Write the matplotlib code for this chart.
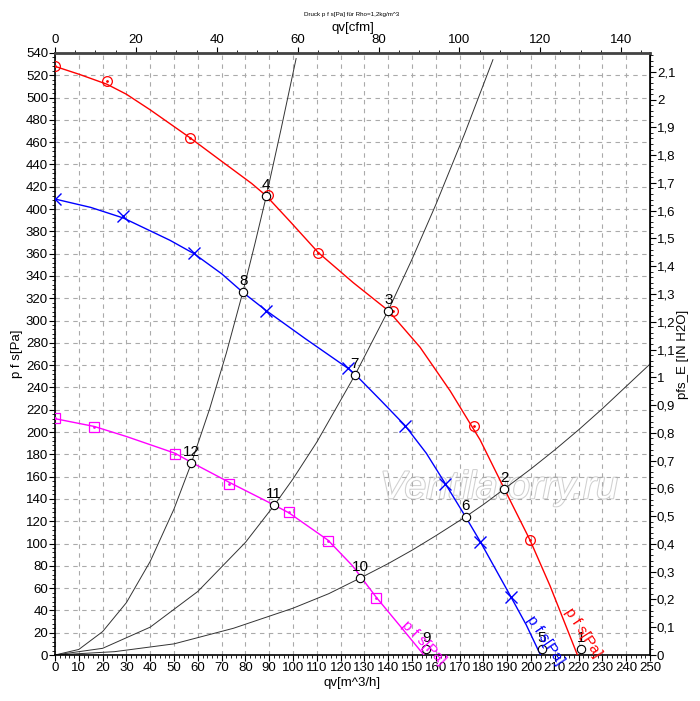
import matplotlib
matplotlib.use("Agg")
import matplotlib.pyplot as plt
import matplotlib.patheffects as pe
from matplotlib.ticker import MultipleLocator, FuncFormatter

plt.rcParams['font.family'] = ['Liberation Sans', 'DejaVu Sans']

# fan curves p f s [Pa] vs qv [m^3/h]
red_q = [0, 10, 21.8, 30, 40, 56.7, 69.3, 82.6, 88.7, 98.7, 110.6, 125.3, 140, 153.4, 166, 178.6, 188.8, 199.6, 208, 219.5]
red_p = [528, 521, 512, 503, 489, 464, 444, 423, 412, 389, 361, 334, 309, 276, 237, 193, 149, 103, 62, 0]
red_mq = [0, 21.8, 56.7, 89.5, 110.5, 142.2, 176, 199.6]
red_mp = [528, 515, 463.7, 412.6, 360.9, 309, 205.4, 103]

blue_q = [0, 15, 28.7, 48.3, 58.4, 70, 79.1, 88.7, 105, 123.2, 126, 136.6, 147, 156, 163.9, 172.5, 178.6, 191.6, 198, 204]
blue_p = [409, 401.5, 392, 372, 360, 342, 325, 309, 284, 257, 252, 229, 206, 181, 154, 124, 102, 52, 27, 0]
blue_mq = [0, 28.7, 58.4, 88.7, 123.2, 147, 163.9, 178.6, 191.6]
blue_mp = [409, 394, 360.3, 309, 257, 205.7, 153.4, 101.6, 52.3]

mag_q = [0, 16.5, 30, 50.4, 57.1, 73.1, 92, 98.3, 114.7, 125, 134.9, 145, 155]
mag_p = [212, 205, 196, 181, 173, 155, 134.6, 127.5, 103, 80, 52, 26, 0]
mag_mq = [0, 16.5, 50.4, 73.1, 98.3, 114.7, 134.9]
mag_mp = [212.6, 204.8, 180, 153.4, 128.3, 102.3, 51.1]

# system curves (black)
sysA_q = [0, 10, 20, 30, 40, 50, 57.1, 65, 72, 79.1, 84, 88.7, 95, 101.3]
sysA_p = [0, 5, 21, 47, 84, 131, 171, 221, 271, 327, 369, 411, 472, 535]
sysB_q = [0, 20, 40, 60, 80, 92, 100, 110, 126, 140, 150, 160, 172, 184]
sysB_p = [0, 6, 25, 57, 101, 134, 158, 191, 251, 309, 355, 404, 467, 534]
sysC_q = [0, 25, 50, 75, 100, 115, 128.2, 140, 150, 160, 172.5, 180, 188.8, 200, 210, 220, 230, 240, 250]
sysC_p = [0, 3, 10, 24, 42, 55, 69, 82, 94, 107, 124, 135, 149, 167, 184, 202, 221, 241, 261]

# operating points
pt_labels = ['1', '2', '3', '4', '5', '6', '7', '8', '9', '10', '11', '12']
pt_q = [221, 188.8, 140, 88.7, 204.5, 172.5, 126, 79.1, 156, 128.2, 92, 57.1]
pt_p = [5, 148.9, 308.8, 411.7, 5, 124, 251, 325.3, 5, 69, 134.6, 172.2]

fig = plt.figure(figsize=(7, 7.01), dpi=100)
ax = fig.add_axes([0.0786, 0.0656, 0.85, 0.8588])
ax.set_xlim(0, 250)
ax.set_ylim(0, 540)

ax.xaxis.set_major_locator(MultipleLocator(10))
ax.xaxis.set_minor_locator(MultipleLocator(2))
ax.yaxis.set_major_locator(MultipleLocator(20))
ax.yaxis.set_minor_locator(MultipleLocator(4))
ax.grid(True, which='major', color='#aaaaaa', linestyle=(0, (4, 4)), linewidth=0.8)
ax.tick_params(which='major', direction='out', length=4, labelsize=9.5, pad=1)
ax.tick_params(which='minor', direction='out', length=2)

for s in ax.spines.values():
    s.set_linewidth(1.2)
ax.spines['top'].set_linewidth(2)
ax.spines['top'].set_color('#444444')

ax.text(0.746, 0.277, 'Ventilatorry.ru', transform=ax.transAxes, fontsize=28,
        style='italic', color='white', ha='center', va='center', zorder=1.5,
        path_effects=[pe.withStroke(linewidth=1.5, foreground='#d0d0d0')])

for q, p in [(sysA_q, sysA_p), (sysB_q, sysB_p), (sysC_q, sysC_p)]:
    ax.plot(q, p, color='#333333', lw=0.7, zorder=2)

ax.plot(red_q, red_p, color='red', lw=1.0, zorder=3)
ax.plot(red_mq, red_mp, 'o', mfc='none', mec='red', ms=7, mew=0.9, zorder=4)
ax.plot(red_mq, red_mp, '.', color='red', ms=2, zorder=4)
ax.plot(blue_q, blue_p, color='blue', lw=1.0, zorder=3)
ax.plot(blue_mq, blue_mp, 'x', color='blue', ms=8, mew=1.0, zorder=4)
ax.plot(mag_q, mag_p, color='magenta', lw=1.0, zorder=3)
ax.plot(mag_mq, mag_mp, 's', mfc='none', mec='magenta', ms=7, mew=0.9, zorder=4)
ax.plot(mag_mq, mag_mp, '.', color='magenta', ms=2, zorder=4)

ax.plot(pt_q, pt_p, 'o', mfc='white', mec='black', ms=6, mew=0.8, zorder=5)
for lab, q, p in zip(pt_labels, pt_q, pt_p):
    ax.annotate(lab, (q, p), xytext=(0, 3), textcoords='offset points',
                ha='center', va='bottom', fontsize=11, zorder=6)

ax.text(155, 11, 'p f s[Pa]', color='magenta', fontsize=11, rotation=-45,
        ha='center', va='center', zorder=6)
ax.text(206, 13, 'p f s[Pa]', color='blue', fontsize=11, rotation=-56,
        ha='center', va='center', zorder=6)
ax.text(222, 20, 'p f s[Pa]', color='red', fontsize=11, rotation=-57,
        ha='center', va='center', zorder=6)

ax.set_xlabel('qv[m^3/h]', fontsize=9.5, labelpad=2)
ax.set_ylabel('p f s[Pa]', fontsize=9.5, labelpad=2)

cfm = 1.699
top = ax.secondary_xaxis('top', functions=(lambda x: x / cfm, lambda x: x * cfm))
top.xaxis.set_major_locator(MultipleLocator(20))
top.xaxis.set_minor_locator(MultipleLocator(5))
top.tick_params(which='major', direction='out', length=4, labelsize=9.5, pad=1)
top.tick_params(which='minor', direction='out', length=2)
top.set_xlabel('qv[cfm]', fontsize=9.5, labelpad=2)

inh2o = 249.089
right = ax.secondary_yaxis('right', functions=(lambda p: p / inh2o, lambda p: p * inh2o))
right.yaxis.set_major_locator(MultipleLocator(0.1))
right.yaxis.set_minor_locator(MultipleLocator(0.02))
right.yaxis.set_major_formatter(FuncFormatter(lambda v, pos: ('%g' % round(v, 2)).replace('.', ',')))
right.tick_params(which='major', direction='out', length=4, labelsize=9.5, pad=1)
right.tick_params(which='minor', direction='out', length=2)
right.set_ylabel('pfs_E [IN H2O]', fontsize=9.5, labelpad=1)

fig.text(0.503, 0.98, 'Druck p f s[Pa] für Rho=1,2kg/m^3', fontsize=4.5,
         ha='center', va='center')

fig.savefig('out.png', dpi=100)
